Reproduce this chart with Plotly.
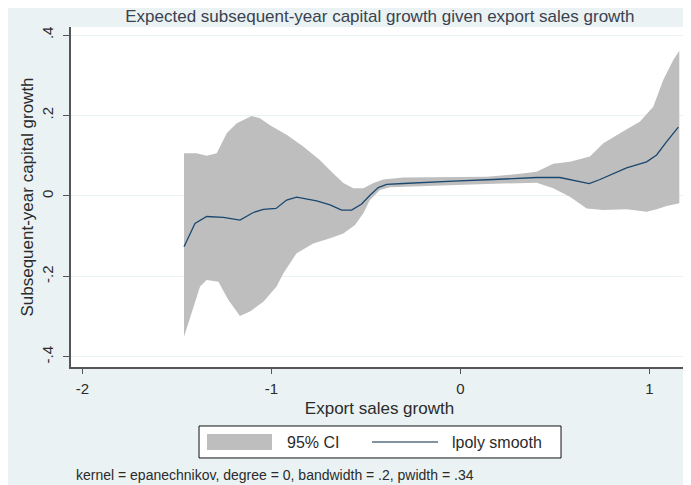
import plotly.graph_objects as go

# Local polynomial smooth (line)
smooth_x = [-1.463, -1.405, -1.343, -1.255, -1.167, -1.096, -1.043, -0.976, -0.920, -0.867,
            -0.761, -0.690, -0.629, -0.576, -0.523, -0.479, -0.435, -0.391, -0.302, -0.232,
            -0.161, -0.038, 0.174, 0.403, 0.526, 0.615, 0.681, 0.738, 0.809, 0.879,
            0.985, 1.038, 1.091, 1.153]
smooth_y = [-0.126, -0.068, -0.051, -0.053, -0.060, -0.041, -0.033, -0.031, -0.010, -0.003,
            -0.012, -0.022, -0.035, -0.035, -0.020, 0.002, 0.021, 0.029, 0.031, 0.033,
            0.034, 0.037, 0.041, 0.046, 0.046, 0.038, 0.031, 0.041, 0.056, 0.070,
            0.085, 0.102, 0.135, 0.171]

# Upper 95% CI
upper_x = [-1.463, -1.396, -1.343, -1.290, -1.237, -1.184, -1.105, -1.061, -1.008, -0.920,
           -0.832, -0.743, -0.673, -0.620, -0.567, -0.514, -0.461, -0.408, -0.302, -0.161,
           0.139, 0.315, 0.403, 0.491, 0.579, 0.685, 0.756, 0.844, 0.950, 1.020,
           1.073, 1.126, 1.158]
upper_y = [0.106, 0.106, 0.100, 0.106, 0.156, 0.181, 0.199, 0.193, 0.176, 0.152,
           0.123, 0.089, 0.056, 0.032, 0.019, 0.019, 0.032, 0.041, 0.046, 0.047,
           0.048, 0.055, 0.060, 0.080, 0.085, 0.098, 0.131, 0.156, 0.185, 0.222,
           0.288, 0.338, 0.361]

# Lower 95% CI
lower_x = [-1.463, -1.422, -1.378, -1.343, -1.281, -1.229, -1.167, -1.114, -1.043, -0.973,
           -0.937, -0.867, -0.779, -0.690, -0.620, -0.558, -0.514, -0.479, -0.426, -0.373,
           -0.267, -0.161, 0.139, 0.403, 0.491, 0.579, 0.668, 0.756, 0.879, 0.985,
           1.038, 1.091, 1.158]
lower_y = [-0.350, -0.291, -0.225, -0.209, -0.213, -0.258, -0.298, -0.287, -0.263, -0.225,
           -0.192, -0.142, -0.118, -0.105, -0.093, -0.072, -0.043, -0.010, 0.015, 0.022,
           0.023, 0.026, 0.030, 0.033, 0.019, -0.002, -0.031, -0.035, -0.033, -0.039,
           -0.033, -0.025, -0.018]

x_ticks = [-2, -1, 0, 1]
x_tick_labels = ["-2", "-1", "0", "1"]
y_ticks = [-0.4, -0.2, 0, 0.2, 0.4]
y_tick_labels = ["-.4", "-.2", "0", ".2", ".4"]
legend_labels = ["95% CI", "lpoly smooth"]

FONT = "Liberation Sans, Arial, sans-serif"
BG = "#EAF2F3"
TXT = "#2b2b2b"
BAND = "#BEBEBE"
LINE = "#1A476F"

fig = go.Figure()

band_x = upper_x + lower_x[::-1]
band_y = upper_y + lower_y[::-1]
fig.add_trace(go.Scatter(
    x=band_x, y=band_y, mode="lines", fill="toself",
    fillcolor=BAND, line=dict(width=0, color=BAND),
    name=legend_labels[0], hoverinfo="skip", showlegend=False))

fig.add_trace(go.Scatter(
    x=smooth_x, y=smooth_y, mode="lines",
    line=dict(color=LINE, width=1.3),
    name=legend_labels[1], showlegend=False))

# manual legend (Stata style box)
shapes = [
    dict(type="rect", xref="paper", yref="paper", x0=0.2075, x1=0.7942, y0=-0.2676, y1=-0.1735,
         fillcolor="white", line=dict(color="#111111", width=1)),
    dict(type="rect", xref="paper", yref="paper", x0=0.2204, x1=0.3258, y0=-0.2441, y1=-0.1971,
         fillcolor=BAND, line=dict(width=0)),
    dict(type="line", xref="paper", yref="paper", x0=0.4878, x1=0.5948, y0=-0.2206, y1=-0.2206,
         line=dict(color="#5a6f82", width=1.5)),
]
annotations = [
    dict(text=legend_labels[0], xref="paper", yref="paper", x=0.3468, y=-0.2206,
         xanchor="left", yanchor="middle", showarrow=False, font=dict(size=16, color=TXT, family=FONT)),
    dict(text=legend_labels[1], xref="paper", yref="paper", x=0.6143, y=-0.2206,
         xanchor="left", yanchor="middle", showarrow=False, font=dict(size=16, color=TXT, family=FONT)),
    dict(text="kernel = epanechnikov, degree = 0, bandwidth = .2, pwidth = .34",
         xref="paper", yref="paper", x=0.0049, y=-0.3176, xanchor="left", yanchor="middle",
         showarrow=False, font=dict(size=14, color=TXT, family=FONT)),
]

fig.update_layout(
    width=683, height=477,
    paper_bgcolor=BG, plot_bgcolor="white",
    margin=dict(l=63, r=3, t=19, b=118, autoexpand=False),
    font=dict(family=FONT, size=15, color=TXT),
    title=dict(text="Expected subsequent-year capital growth given export sales growth",
               x=0.5445, xanchor="center", y=1 - 8 / 477, yanchor="middle",
               font=dict(size=17, color="#3a4250", family=FONT)),
    showlegend=False,
    shapes=shapes,
    annotations=annotations,
    xaxis=dict(range=[-2.061, 1.204], tickvals=x_ticks, ticktext=x_tick_labels,
               showgrid=False, zeroline=False, showline=True, linecolor="#555555",
               linewidth=1.5, ticks="outside", ticklen=5, tickcolor="#555555",
               tickfont=dict(size=15, color=TXT), automargin=False, ticklabelstandoff=2,
               title=dict(text="Export sales growth", font=dict(size=17, color=TXT), standoff=6)),
    yaxis=dict(range=[-0.425, 0.42], tickvals=y_ticks, ticktext=y_tick_labels,
               showgrid=True, gridcolor=BG, gridwidth=1, zeroline=False,
               showline=True, linecolor="#555555", linewidth=1.5,
               ticks="outside", ticklen=6, tickcolor="#555555", tickangle=-90,
               ticklabelstandoff=4, automargin=False,
               tickfont=dict(size=15, color=TXT),
               title=dict(text="Subsequent-year capital growth", font=dict(size=17, color=TXT), standoff=1)),
)

fig.write_html("out.html")
